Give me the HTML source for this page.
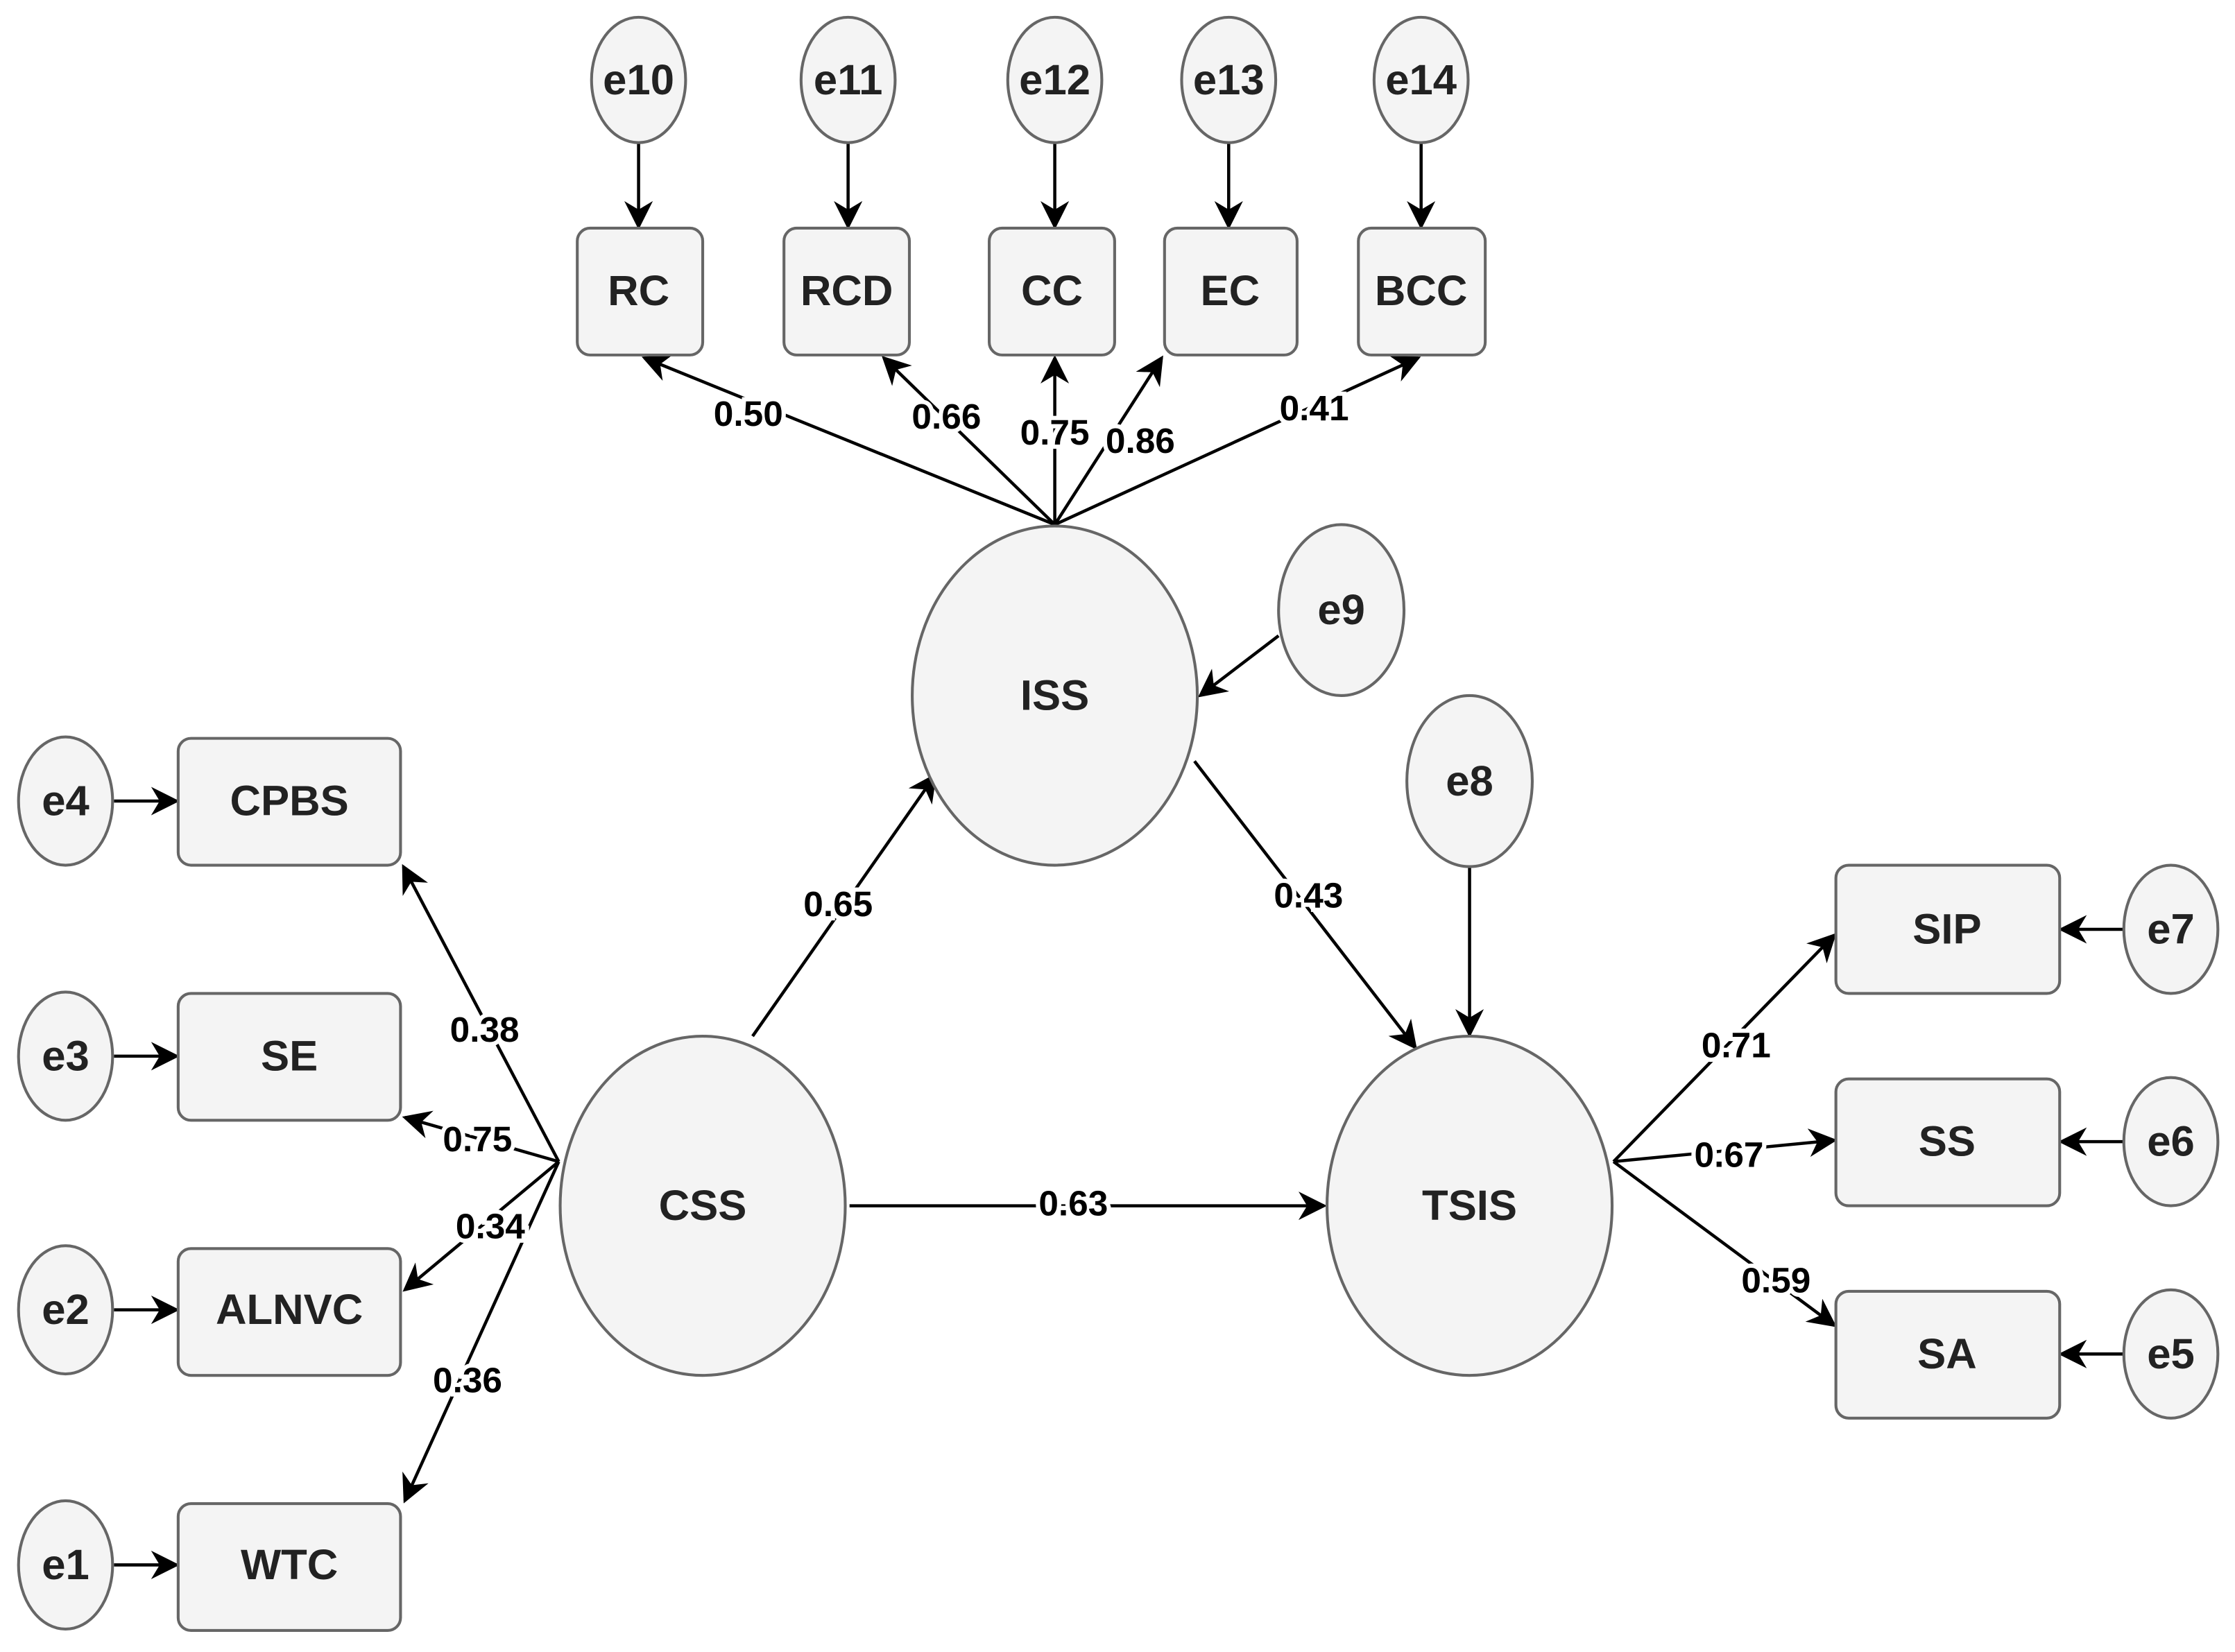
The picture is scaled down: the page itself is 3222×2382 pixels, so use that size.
<!DOCTYPE html>
<html><head><meta charset="utf-8"><style>html,body{margin:0;padding:0;background:#fff}svg{display:block}</style></head>
<body>
<svg width="3222" height="2382" viewBox="0 0 1568 1159" xmlns="http://www.w3.org/2000/svg" font-family="Liberation Sans, sans-serif" font-weight="bold">
<defs>
<marker id="b" viewBox="0 0 10 10" refX="9" refY="5" markerWidth="20" markerHeight="20" markerUnits="userSpaceOnUse" orient="auto"><path d="M0,0 L10,5 L0,10 L3,5 z" fill="#000"/></marker>
</defs>
<g stroke="#000" stroke-width="2.2" fill="none" marker-end="url(#b)">
<line x1="448" y1="100" x2="448" y2="159"/><line x1="595" y1="100" x2="595" y2="159"/><line x1="740" y1="100" x2="740" y2="159"/><line x1="862" y1="100" x2="862" y2="159"/><line x1="997" y1="100" x2="997" y2="159"/>
<line x1="740" y1="368" x2="452" y2="251"/><line x1="740" y1="368" x2="620" y2="251"/><line x1="740" y1="368" x2="740" y2="251"/><line x1="740" y1="368" x2="815" y2="251"/><line x1="740" y1="368" x2="995" y2="251"/>
<line x1="897" y1="446" x2="842" y2="488"/><line x1="1031" y1="608" x2="1031" y2="726"/>
<line x1="528" y1="727" x2="656" y2="544"/><line x1="838" y1="534" x2="993" y2="735"/><line x1="596" y1="846" x2="929" y2="846"/>
<line x1="392" y1="815" x2="283" y2="608"/><line x1="392" y1="815" x2="284" y2="784"/><line x1="392" y1="815" x2="284" y2="905"/><line x1="392" y1="815" x2="284" y2="1053"/>
<line x1="1132" y1="815" x2="1287" y2="656"/><line x1="1132" y1="815" x2="1287" y2="800"/><line x1="1132" y1="815" x2="1287" y2="930"/>
<line x1="80" y1="562" x2="124" y2="562"/><line x1="80" y1="741" x2="124" y2="741"/><line x1="80" y1="919" x2="124" y2="919"/><line x1="80" y1="1098" x2="124" y2="1098"/>
<line x1="1490" y1="652" x2="1446" y2="652"/><line x1="1490" y1="801" x2="1446" y2="801"/><line x1="1490" y1="950" x2="1446" y2="950"/>
</g>
<g fill="#f4f4f4" stroke="#666" stroke-width="2">
<ellipse cx="448" cy="56" rx="33" ry="44"/><ellipse cx="595" cy="56" rx="33" ry="44"/><ellipse cx="740" cy="56" rx="33" ry="44"/><ellipse cx="862" cy="56" rx="33" ry="44"/><ellipse cx="997" cy="56" rx="33" ry="44"/>
<rect x="405" y="160" width="88" height="89" rx="9"/><rect x="550" y="160" width="88" height="89" rx="9"/><rect x="694" y="160" width="88" height="89" rx="9"/><rect x="817" y="160" width="93" height="89" rx="9"/><rect x="953" y="160" width="89" height="89" rx="9"/>
<ellipse cx="740" cy="488" rx="100" ry="119"/><ellipse cx="493" cy="846" rx="100" ry="119"/><ellipse cx="1031" cy="846" rx="100" ry="119"/>
<ellipse cx="941" cy="428" rx="44" ry="60"/><ellipse cx="1031" cy="548" rx="44" ry="60"/>
<rect x="125" y="518" width="156" height="89" rx="9"/><rect x="125" y="697" width="156" height="89" rx="9"/><rect x="125" y="876" width="156" height="89" rx="9"/><rect x="125" y="1055" width="156" height="89" rx="9"/>
<ellipse cx="46" cy="562" rx="33" ry="45"/><ellipse cx="46" cy="741" rx="33" ry="45"/><ellipse cx="46" cy="919" rx="33" ry="45"/><ellipse cx="46" cy="1098" rx="33" ry="45"/>
<rect x="1288" y="607" width="157" height="90" rx="9"/><rect x="1288" y="757" width="157" height="89" rx="9"/><rect x="1288" y="906" width="157" height="89" rx="9"/>
<ellipse cx="1523" cy="652" rx="33" ry="45"/><ellipse cx="1523" cy="801" rx="33" ry="45"/><ellipse cx="1523" cy="950" rx="33" ry="45"/>
</g>
<g fill="#222" font-size="30" text-anchor="middle" dominant-baseline="central">
<text x="448" y="56">e10</text><text x="595" y="56">e11</text><text x="740" y="56">e12</text><text x="862" y="56">e13</text><text x="997" y="56">e14</text>
<text x="448" y="204">RC</text><text x="594" y="204">RCD</text><text x="738" y="204">CC</text><text x="863" y="204">EC</text><text x="997" y="204">BCC</text>
<text x="740" y="488">ISS</text><text x="493" y="846">CSS</text><text x="1031" y="846">TSIS</text>
<text x="941" y="428">e9</text><text x="1031" y="548">e8</text>
<text x="203" y="562">CPBS</text><text x="203" y="741">SE</text><text x="203" y="919">ALNVC</text><text x="203" y="1098">WTC</text>
<text x="46" y="562">e4</text><text x="46" y="741">e3</text><text x="46" y="919">e2</text><text x="46" y="1098">e1</text>
<text x="1366" y="652">SIP</text><text x="1366" y="801">SS</text><text x="1366" y="950">SA</text>
<text x="1523" y="652">e7</text><text x="1523" y="801">e6</text><text x="1523" y="950">e5</text>
</g>
<g fill="#000" font-size="25" text-anchor="middle" dominant-baseline="central" stroke="#fff" stroke-width="6" paint-order="stroke">
<text x="525" y="290">0.50</text><text x="664" y="292">0.66</text><text x="740" y="303">0.75</text><text x="800" y="309">0.86</text><text x="922" y="286">0.41</text>
<text x="588" y="634">0.65</text><text x="918" y="628">0.43</text><text x="753" y="844">0.63</text>
<text x="340" y="722">0.38</text><text x="335" y="799">0.75</text><text x="344" y="860">0.34</text><text x="328" y="968">0.36</text>
<text x="1218" y="733">0.71</text><text x="1213" y="810">0.67</text><text x="1246" y="898">0.59</text>
</g>
</svg>
</body></html>
